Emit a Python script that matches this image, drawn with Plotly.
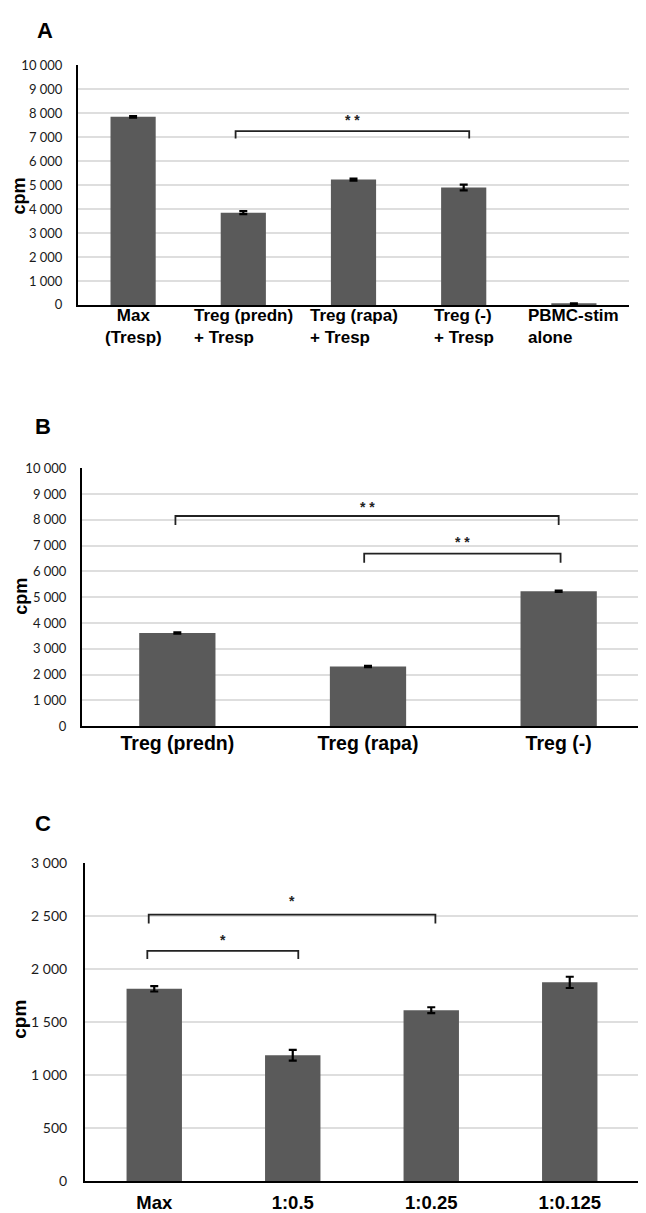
import plotly.graph_objects as go

# ---------------- data ----------------
a_categories = ["Max (Tresp)", "Treg (predn) + Tresp", "Treg (rapa) + Tresp", "Treg (-) + Tresp", "PBMC-stim alone"]
a_labels = ["Max<br>(Tresp)", "Treg (predn)<br>+ Tresp", "Treg (rapa)<br>+ Tresp", "Treg (-)<br>+ Tresp", "PBMC-stim<br>alone"]
a_label_align = ["center", "left", "left", "left", "left"]
a_values = [7850, 3850, 5230, 4900, 50]
a_errors = [30, 60, 40, 120, 20]

b_categories = ["Treg (predn)", "Treg (rapa)", "Treg (-)"]
b_values = [3610, 2320, 5230]
b_errors = [25, 25, 25]

c_categories = ["Max", "1:0.5", "1:0.25", "1:0.125"]
c_values = [1815, 1188, 1613, 1876]
c_errors = [25, 50, 28, 53]

# significance brackets: (x_left, x_right, y_top, y_leg_bottom, star_y, label)
a_brackets = [(0.93, 3.05, 7250, 6950, 7700, "* *")]
b_brackets = [(-0.01, 2.0, 8150, 7800, 8500, "* *"),
              (0.98, 2.01, 6690, 6340, 7130, "* *")]
c_brackets = [(-0.04, 2.03, 2515, 2432, 2643, "*"),
              (-0.05, 1.04, 2174, 2097, 2280, "*")]

# ---------------- style ----------------
W, H = 646, 1213
BAR = "#5a5a5a"
GRID = "#dedede"
TICKFONT = "Lato"
BOLD = "Liberation Sans"


def px_x(p):
    return p / W


def px_y(p):
    return 1 - p / H


fig = go.Figure()

panels = [
    dict(key="", cats=a_categories, vals=a_values, errs=a_errors, brackets=a_brackets,
         xdom=(70, 621), ydom=(49, 292), yrange=(0, 10000), dtick=1000, tfs=13,
         bargap=0.59, letter="A", letter_xy=(37, 14), cpm_xy=(11, 182), cpm_size=18,
         xlab_size=18, xlab_standoff=6, ytick_standoff=11),
    dict(key="2", cats=b_categories, vals=b_values, errs=b_errors, brackets=b_brackets,
         xdom=(74, 646), ydom=(457.7, 719.3), yrange=(0, 10000), dtick=1000, tfs=13,
         bargap=0.60, letter="B", letter_xy=(35, 415), cpm_xy=(13, 588), cpm_size=18,
         xlab_size=19.5, xlab_standoff=-2, ytick_standoff=11),
    dict(key="3", cats=c_categories, vals=c_values, errs=c_errors, brackets=c_brackets,
         xdom=(77, 631), ydom=(858.3, 1180.7), yrange=(0, 3000), dtick=500, tfs=14,
         bargap=0.60, letter="C", letter_xy=(35, 818), cpm_xy=(12, 1017), cpm_size=19,
         xlab_size=18.5, xlab_standoff=4, ytick_standoff=13),
]

annotations = []
shapes = []
layout_axes = {}

for i, p in enumerate(panels):
    k = p["key"]
    xa = "x" + k
    ya = "y" + k
    n = len(p["cats"])
    fig.add_trace(go.Bar(
        x=list(range(n)), y=p["vals"],
        xaxis=xa, yaxis=ya,
        marker=dict(color=BAR, line=dict(width=0)),
        width=1 - p["bargap"],
        error_y=dict(type="data", array=p["errs"], visible=True,
                     color="black", thickness=2.2, width=4),
        showlegend=False, hoverinfo="x+y",
    ))
    xkey = "xaxis" + k
    ykey = "yaxis" + k
    layout_axes[xkey] = dict(
        domain=[px_x(p["xdom"][0]), px_x(p["xdom"][1])],
        anchor=ya, range=[-0.5, n - 0.5],
        tickmode="array", tickvals=list(range(n)),
        ticktext=p["cats"] if i > 0 else [""] * n,
        showticklabels=(i > 0),
        tickfont=dict(family=BOLD, size=p["xlab_size"], color="black", weight="bold"),
        ticks="", showgrid=False, zeroline=False,
        showline=True, linecolor="black", linewidth=2,
        ticklabelstandoff=p["xlab_standoff"],
        fixedrange=True,
    )
    layout_axes[ykey] = dict(
        domain=[px_y(p["ydom"][1]), px_y(p["ydom"][0])],
        anchor=xa, range=list(p["yrange"]), dtick=p["dtick"], tick0=0,
        tickformat=",", separatethousands=True,
        tickfont=dict(family=TICKFONT, size=p["tfs"], color="#1a1a1a"),
        ticks="", showgrid=True, gridcolor=GRID, gridwidth=1.5,
        zeroline=False, showline=True, linecolor="black", linewidth=2,
        ticklabelstandoff=p["ytick_standoff"],
        fixedrange=True,
    )
    # brackets
    for (xl, xr, yt, yb, ys, lab) in p["brackets"]:
        shapes.append(dict(type="path", xref=xa, yref=ya,
                           path=f"M {xl} {yb} L {xl} {yt} L {xr} {yt} L {xr} {yb}",
                           line=dict(color="#222222", width=1.8)))
        annotations.append(dict(x=(xl + xr) / 2, y=ys, xref=xa, yref=ya,
                                text="<b>" + lab + "</b>", showarrow=False,
                                font=dict(family=BOLD, size=14, color="#222222")))
    # panel letter
    annotations.append(dict(x=px_x(p["letter_xy"][0]), y=px_y(p["letter_xy"][1]),
                            xref="paper", yref="paper", text="<b>" + p["letter"] + "</b>",
                            showarrow=False, xanchor="center", yanchor="middle",
                            font=dict(family=BOLD, size=22, color="black")))
    # y label
    annotations.append(dict(x=px_x(p["cpm_xy"][0]), y=px_y(p["cpm_xy"][1]),
                            xref="paper", yref="paper", text="<b>cpm</b>", textangle=-90,
                            showarrow=False, xanchor="center", yanchor="middle",
                            font=dict(family=BOLD, size=p["cpm_size"], color="black")))

# panel A category labels (two-line, custom alignment)
for j, (lab, al) in enumerate(zip(a_labels, a_label_align)):
    annotations.append(dict(x=j, y=px_y(291), xref="x", yref="paper",
                            text="<b>" + lab + "</b>", align=al,
                            showarrow=False, xanchor="center", yanchor="top",
                            font=dict(family=BOLD, size=17, color="black")))

fig.update_layout(
    width=W, height=H,
    margin=dict(l=0, r=0, t=0, b=0),
    paper_bgcolor="white", plot_bgcolor="white",
    separators=". ",
    showlegend=False,
    annotations=annotations,
    shapes=shapes,
    **layout_axes,
)

fig.write_html("out.html")
